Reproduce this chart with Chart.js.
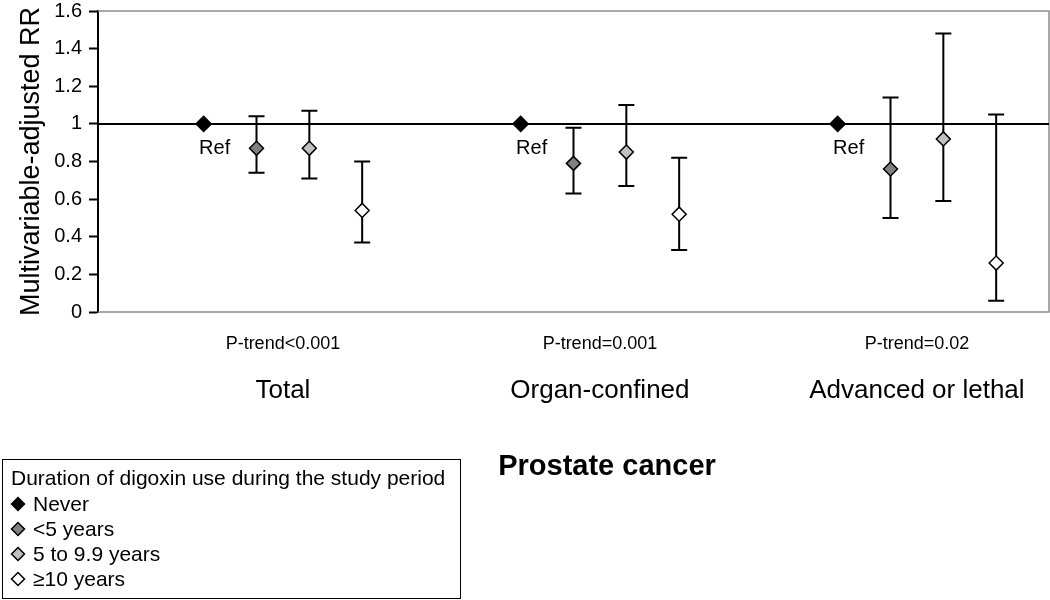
<!DOCTYPE html>
<html>
<head>
<meta charset="utf-8">
<script src="https://cdn.jsdelivr.net/npm/chart.js@4.4.1/dist/chart.umd.min.js"></script>
<style>
  html, body { margin: 0; padding: 0; background: #fff; }
  #wrap { width: 1050px; height: 600px; position: relative; }
</style>
</head>
<body>
<div id="wrap"><canvas id="myChart" width="1050" height="600"></canvas></div>
<script>
// groups along the x axis
const groups = ["Total", "Organ-confined", "Advanced or lethal"];
const pTrend = ["P-trend<0.001", "P-trend=0.001", "P-trend=0.02"];
const durations = ["Never", "<5 years", "5 to 9.9 years", "\u226510 years"];
const fills = ["#000000", "#808080", "#c0c0c0", "#ffffff"];

// multivariable-adjusted RR and 95% CI per group
const rrNever = [1, 1, 1];
const rrLt5 = [0.87, 0.79, 0.76];
const lowLt5 = [0.74, 0.63, 0.50];
const highLt5 = [1.04, 0.98, 1.14];
const rr5to10 = [0.87, 0.85, 0.92];
const low5to10 = [0.71, 0.67, 0.59];
const high5to10 = [1.07, 1.10, 1.48];
const rr10plus = [0.54, 0.52, 0.26];
const low10plus = [0.37, 0.33, 0.06];
const high10plus = [0.80, 0.82, 1.05];

const refValue = 1;
const yMin = 0, yMax = 1.6, yStep = 0.2;

const FONT = "'Liberation Sans', Arial, sans-serif";
const SLOTS = 6; // x units per group

function slotX(g, s) { return g * SLOTS + 2 + s; }

function makePoints(vals, s, lows, highs) {
    return vals.map(function (v, g) {
        return { x: slotX(g, s), y: v, lo: lows ? lows[g] : null, hi: highs ? highs[g] : null };
    });
}

const seriesData = [
    makePoints(rrNever, 0),
    makePoints(rrLt5, 1, lowLt5, highLt5),
    makePoints(rr5to10, 2, low5to10, high5to10),
    makePoints(rr10plus, 3, low10plus, high10plus)
];

function noPad(scale) {
    scale.paddingTop = 0;
    scale.paddingBottom = 0;
    scale.paddingLeft = 0;
    scale.paddingRight = 0;
}

const extras = {
    id: "extras",
    beforeDatasetsDraw(chart) {
        const ctx = chart.ctx;
        const a = chart.chartArea;
        const xs = chart.scales.x, ys = chart.scales.y;
        ctx.save();
        // frame (top, right, bottom)
        ctx.strokeStyle = "#8c8c8c";
        ctx.lineWidth = 1.5;
        ctx.beginPath();
        ctx.moveTo(a.left, a.top);
        ctx.lineTo(a.right, a.top);
        ctx.lineTo(a.right, a.bottom);
        ctx.lineTo(a.left, a.bottom);
        ctx.stroke();
        // reference line
        const yr = ys.getPixelForValue(refValue);
        ctx.strokeStyle = "#000";
        ctx.lineWidth = 2;
        ctx.beginPath();
        ctx.moveTo(a.left, yr);
        ctx.lineTo(a.right, yr);
        ctx.stroke();
        // error bars
        chart.data.datasets.forEach(function (ds) {
            ds.data.forEach(function (p) {
                if (p.lo == null) return;
                const x = xs.getPixelForValue(p.x);
                const y1 = ys.getPixelForValue(p.lo);
                const y2 = ys.getPixelForValue(p.hi);
                ctx.beginPath();
                ctx.moveTo(x, y1);
                ctx.lineTo(x, y2);
                ctx.moveTo(x - 8, y1);
                ctx.lineTo(x + 8, y1);
                ctx.moveTo(x - 8, y2);
                ctx.lineTo(x + 8, y2);
                ctx.stroke();
            });
        });
        ctx.restore();
    },
    afterDraw(chart) {
        const ctx = chart.ctx;
        const xs = chart.scales.x, ys = chart.scales.y;
        ctx.save();
        ctx.fillStyle = "#000";
        ctx.textBaseline = "middle";
        ctx.textAlign = "center";
        // Ref labels below the Never points
        ctx.font = "20px " + FONT;
        seriesData[0].forEach(function (p) {
            ctx.fillText("Ref", xs.getPixelForValue(p.x) + 11, ys.getPixelForValue(p.y) + 25);
        });
        // p-trend and group labels
        groups.forEach(function (g, i) {
            const cx = xs.getPixelForValue(i * SLOTS + 3.5);
            ctx.font = "18px " + FONT;
            ctx.fillText(pTrend[i], cx, 344);
            ctx.font = "26px " + FONT;
            ctx.fillText(g, cx, 391);
        });
        ctx.font = "bold 29px " + FONT;
        ctx.fillText("Prostate cancer", 607, 467);
        // legend box
        ctx.textAlign = "left";
        ctx.strokeStyle = "#000";
        ctx.lineWidth = 1;
        ctx.strokeRect(2.5, 459.5, 458, 139);
        ctx.font = "21px " + FONT;
        ctx.fillText("Duration of digoxin use during the study period", 11, 479);
        durations.forEach(function (d, i) {
            const y = 504 + i * 25;
            ctx.fillStyle = fills[i];
            ctx.strokeStyle = "#000";
            ctx.lineWidth = 1.5;
            Chart.helpers.drawPoint(ctx, { pointStyle: "rectRot", radius: 6.5, borderWidth: 1.5 }, 18, y);
            ctx.fillStyle = "#000";
            ctx.fillText(d, 33, y + 1);
        });
        ctx.restore();
    }
};

const ctx = document.getElementById("myChart").getContext("2d");

new Chart(ctx, {
    type: "scatter",
    data: {
        datasets: durations.map(function (d, i) {
            return {
                label: d,
                data: seriesData[i],
                pointStyle: "rectRot",
                pointRadius: i === 0 ? 7.5 : 7,
                pointHoverRadius: 7,
                backgroundColor: fills[i],
                borderColor: "#000",
                borderWidth: 1.5,
                showLine: false
            };
        })
    },
    options: {
        responsive: false,
        animation: false,
        layout: { autoPadding: false, padding: { top: 11, right: 1, bottom: 288, left: 0 } },
        plugins: {
            legend: { display: false },
            tooltip: { enabled: false }
        },
        scales: {
            x: {
                type: "linear",
                min: 0,
                max: groups.length * SLOTS,
                display: false,
                afterFit: noPad
            },
            y: {
                min: yMin,
                max: yMax,
                ticks: {
                    stepSize: yStep,
                    color: "#000",
                    padding: 7,
                    font: { family: FONT, size: 20 },
                    callback: function (v) { return String(Number(v.toFixed(1))); }
                },
                grid: {
                    drawOnChartArea: false,
                    drawTicks: true,
                    tickLength: 9,
                    tickColor: "#000",
                    tickWidth: 2
                },
                border: { color: "#000", width: 2 },
                title: {
                    display: true,
                    text: "Multivariable-adjusted RR",
                    color: "#000",
                    padding: { top: 15, bottom: 0 },
                    font: { family: FONT, size: 27, lineHeight: 1.2 }
                },
                afterFit: function (scale) {
                    scale.width = 98;
                    noPad(scale);
                }
            }
        }
    },
    plugins: [extras]
});
</script>
</body>
</html>
